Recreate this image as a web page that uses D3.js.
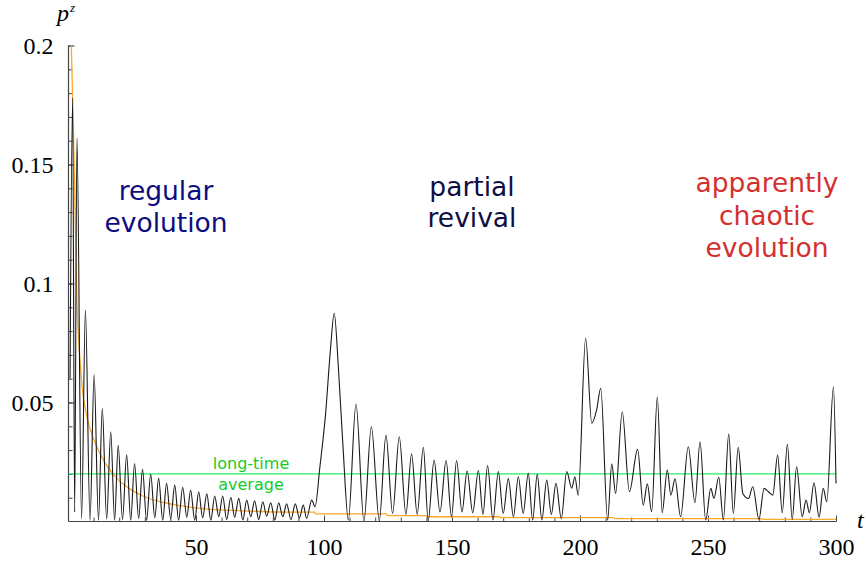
<!DOCTYPE html>
<html>
<head>
<meta charset="utf-8">
<script src="https://cdn.jsdelivr.net/npm/d3@7"></script>
<style>
  body { margin: 0; background: #fff; }
  svg { display: block; }
</style>
</head>
<body>
<div id="chart"></div>
<script>
// black curve: extrema (t, p^z)
const blackT = [0.8, 1.8, 2.6, 3.5, 5.3, 6.8, 8.6, 10.2, 11.9, 13.4, 15.1, 16.7, 18.2, 19.6,
  21.3, 22.9, 24.5, 26.0, 27.6, 29.1, 30.7, 32.3, 33.9, 35.4, 37.0, 38.5, 40.1, 41.7,
  43.2, 44.8, 46.4, 47.9, 49.5, 51.05, 52.6, 54.2, 55.8, 57.3, 58.9, 60.4, 62.0, 63.6,
  65.1, 66.7, 68.3, 69.8, 71.4, 72.9, 74.5, 76.1, 77.6, 79.2, 80.8, 82.3, 83.9, 85.4,
  87.1, 88.8, 90.4, 91.9, 93.2, 95.2, 96.5, 98.4, 100.6, 102.5, 104.0, 105.6, 107.5,
  109.5, 112.5, 115.6, 118.5, 121.6, 124.2, 126.8, 129.4, 132.0, 134.2, 136.4, 138.8,
  140.7, 143.0, 145.3, 147.7, 149.8, 151.8, 153.9, 155.9, 158.1, 160.3, 162.1, 163.9,
  166.0, 168.1, 170.0, 172.0, 174.0, 175.9, 177.8, 179.8, 181.5, 183.3, 185.1, 187.0,
  188.8, 190.6, 192.7, 194.8, 196.8, 198.0, 199.3, 202.2, 204.6, 206.5, 208.1, 210.8,
  212.4, 213.9, 216.5, 219.3, 222.5, 224.7, 226.3, 228.0, 230.2, 232.1, 234.1, 235.5,
  237.1, 239.3, 242.3, 244.9, 246.9, 249.1, 251.1, 252.3, 254.2, 256.0, 258.1, 259.9,
  261.8, 263.6, 265.8, 267.5, 269.9, 271.9, 273.6, 275.3, 277.2, 279.0, 281.0, 282.9,
  284.6, 286.8, 288.3, 289.6, 291.4, 293.4, 295.0, 296.4, 299.0, 300.0];
const blackP = [0.06, 0.178, 0.004, 0.161, 0.001, 0.089, 0.0005, 0.0616, 0.0005, 0.0476, 0.001, 0.0377, 0.0005, 0.032,
  0.0008, 0.028, 0.0005, 0.0244, 0.0012, 0.0219, 0.0005, 0.0198, 0.0015, 0.0181, 0.0005, 0.016, 0.0012, 0.0153,
  0.0005, 0.0144, 0.0018, 0.0132, 0.0005, 0.0125, 0.0015, 0.0116, 0.0005, 0.0107, 0.002, 0.0107, 0.0008, 0.0102,
  0.0018, 0.0097, 0.0006, 0.009, 0.002, 0.0087, 0.0008, 0.0083, 0.0022, 0.0079, 0.0006, 0.0079, 0.002, 0.0074,
  0.0008, 0.0074, 0.0015, 0.0069, 0.0013, 0.009, 0.0062, 0.023, 0.045, 0.072, 0.0875, 0.065, 0.030,
  0.0006, 0.0494, 0.0003, 0.0398, 0.0003, 0.0363, 0.0034, 0.0356, 0.003, 0.0284, 0.003, 0.0312,
  0.0003, 0.0258, 0.004, 0.0256, 0.002, 0.0256, 0.004, 0.0212, 0.0037, 0.0214, 0.003, 0.0235,
  0.0006, 0.021, 0.0034, 0.018, 0.002, 0.0188, 0.0034, 0.0202, 0.0006, 0.0198, 0.0006, 0.0174,
  0.003, 0.016, 0.0012, 0.021, 0.014, 0.0188, 0.011, 0.077, 0.0413, 0.0469, 0.056, 0.0006,
  0.0242, 0.0118, 0.0461, 0.0125, 0.0303, 0.0069, 0.0158, 0.0041, 0.0524, 0.0037, 0.0216, 0.0111,
  0.0179, 0.002, 0.0314, 0.0079, 0.0335, 0.0006, 0.0139, 0.0097, 0.0186, 0.0006, 0.0368, 0.0034,
  0.0312, 0.0118, 0.0097, 0.0146, 0.0009, 0.0139, 0.0125, 0.0111, 0.0279, 0.0037, 0.0324, 0.0009,
  0.023, 0.002, 0.009, 0.0037, 0.0163, 0.0018, 0.0139, 0.0083, 0.0566, 0.016];

// orange running average
const orangeT = [1.3, 2.2, 2.9, 3.4, 4.2, 5.5, 7.4, 10.7, 14.6, 19.8, 24.3, 29.4, 35.9, 42.4, 55.5,
  68.5, 81.5, 96.3, 96.8, 124.3, 124.8, 140, 140.5, 168.5, 169, 213, 213.5, 271, 271.5, 300];
const orangeP = [0.2, 0.16, 0.124, 0.096, 0.076, 0.0566, 0.044, 0.0329, 0.0244, 0.0174, 0.0136, 0.0106, 0.0083, 0.0069, 0.0051,
  0.0045, 0.0040, 0.0039, 0.0032, 0.0032, 0.0025, 0.0025, 0.002, 0.002, 0.0016, 0.0016, 0.0012, 0.0012, 0.0009, 0.0009];

const longTimeAverage = 0.02;

const xMajorTicks = [50, 100, 150, 200, 250, 300];
const xTickLabels = ['50', '100', '150', '200', '250', '300'];
const yMajorTicks = [0.05, 0.1, 0.15, 0.2];
const yTickLabels = ['0.05', '0.1', '0.15', '0.2'];

const W = 866, H = 563;
const x = d3.scaleLinear().domain([0, 300]).range([68, 836]);
const y = d3.scaleLinear().domain([0, 0.2]).range([521.5, 45.5]);

const svg = d3.select('#chart').append('svg')
  .attr('width', W)
  .attr('height', H);

const serif = '"Liberation Serif", "DejaVu Serif", serif';
const sans = '"DejaVu Sans", "Noto Sans", sans-serif';

// minor ticks (every 10 in t, every 0.01 in p), pointing into the plot
svg.append('g')
  .attr('transform', `translate(0,${y(0)})`)
  .call(d3.axisBottom(x).tickValues(d3.range(10, 301, 10)).tickSize(-4).tickFormat(''))
  .call(g => g.select('.domain').remove())
  .selectAll('line').attr('stroke', '#444');

svg.append('g')
  .attr('transform', `translate(${x(0) + 0.5},0)`)
  .call(d3.axisLeft(y).tickValues(d3.range(1, 21).map(i => i / 100)).tickSize(-4).tickFormat(''))
  .call(g => g.select('.domain').remove())
  .selectAll('line').attr('stroke', '#444');

// major ticks with labels
const xAxis = svg.append('g')
  .attr('transform', `translate(0,${y(0)})`)
  .call(d3.axisBottom(x).tickValues(xMajorTicks).tickSize(-6).tickPadding(16)
    .tickFormat((d, i) => xTickLabels[i]));
xAxis.select('.domain').remove();
xAxis.selectAll('line').attr('stroke', '#444');
xAxis.selectAll('text')
  .style('font-family', serif)
  .style('font-size', '24px')
  .attr('fill', '#000');

const yAxis = svg.append('g')
  .attr('transform', `translate(${x(0) + 0.5},0)`)
  .call(d3.axisLeft(y).tickValues(yMajorTicks).tickSize(-6).tickPadding(15)
    .tickFormat((d, i) => yTickLabels[i]));
yAxis.select('.domain').remove();
yAxis.selectAll('line').attr('stroke', '#444');
yAxis.selectAll('text')
  .style('font-family', serif)
  .style('font-size', '24px')
  .attr('fill', '#000');

// axis lines
svg.append('line')
  .attr('x1', x(0) + 0.5).attr('x2', x(300))
  .attr('y1', y(0)).attr('y2', y(0))
  .attr('stroke', '#444').attr('stroke-width', 1.2);
svg.append('line')
  .attr('x1', x(0) + 0.5).attr('x2', x(0) + 0.5)
  .attr('y1', y(0)).attr('y2', y(0.2))
  .attr('stroke', '#444').attr('stroke-width', 1.2);

// long-time average line
svg.append('line')
  .attr('x1', x(0) + 0.5).attr('x2', x(300))
  .attr('y1', y(longTimeAverage)).attr('y2', y(longTimeAverage))
  .attr('stroke', '#22ee66').attr('stroke-width', 1.3);

const line = d3.line()
  .x(d => x(d[0]))
  .y(d => y(d[1]))
  .curve(d3.curveMonotoneX);

// orange running average
svg.append('path')
  .datum(orangeT.map((t, i) => [t, orangeP[i]]))
  .attr('fill', 'none')
  .attr('stroke', '#ffa726')
  .attr('stroke-width', 1.3)
  .attr('d', line);

// p^z(t)
svg.append('path')
  .datum(blackT.map((t, i) => [t, blackP[i]]))
  .attr('fill', 'none')
  .attr('stroke', '#1a1a1a')
  .attr('stroke-width', 1.1)
  .attr('d', line);

// axis names
const pz = svg.append('text')
  .attr('x', 57).attr('y', 21)
  .style('font-family', serif)
  .style('font-style', 'italic')
  .style('font-size', '24px')
  .attr('fill', '#000');
pz.append('tspan').text('p');
pz.append('tspan').attr('dx', 1).attr('dy', -9).style('font-size', '13px').text('z');

svg.append('text')
  .attr('x', 857).attr('y', 528)
  .style('font-family', serif)
  .style('font-style', 'italic')
  .style('font-size', '24px')
  .attr('fill', '#000')
  .text('t');

// region annotations
function annotate(lines, cx, baselines, color, size) {
  lines.forEach((s, i) => {
    svg.append('text')
      .attr('x', cx)
      .attr('y', baselines[i])
      .attr('text-anchor', 'middle')
      .style('font-family', sans)
      .style('font-size', size + 'px')
      .attr('fill', color)
      .text(s);
  });
}

annotate(['regular', 'evolution'], 166, [200, 232], '#0c0c80', 26.5);
annotate(['partial', 'revival'], 472, [196, 227], '#0e0e44', 26.5);
annotate(['apparently', 'chaotic', 'evolution'], 767, [192, 225, 257], '#d4302f', 26.5);
annotate(['long-time', 'average'], 251, [469, 490], '#14cc28', 16);
</script>
</body>
</html>
